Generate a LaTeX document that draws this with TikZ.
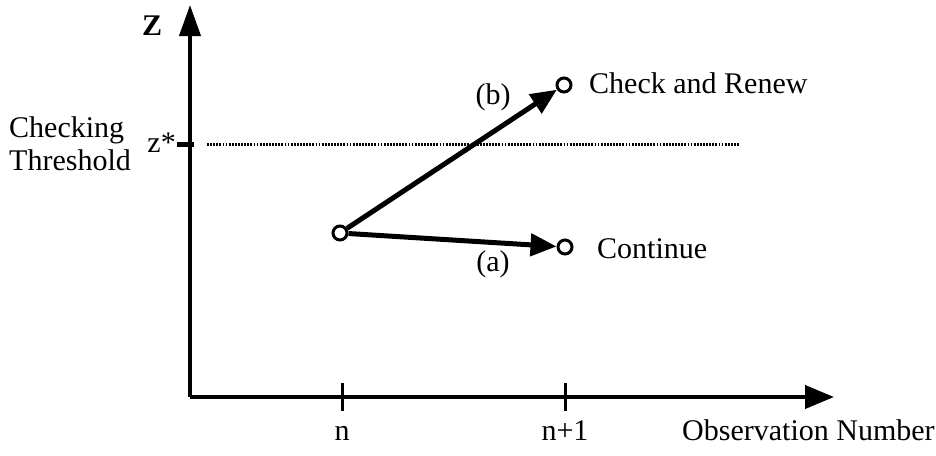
\documentclass[tikz,border=0pt]{standalone}
\usepackage{fontspec}
\setmainfont{Liberation Serif}
\usetikzlibrary{arrows.meta}
\begin{document}
\begin{tikzpicture}[x=1pt,y=-1pt,
  lbl/.style={inner sep=0pt,font=\fontsize{30}{33}\selectfont},
  axis/.style={line width=4pt},
  tick/.style={line width=3pt},
  dot/.style={circle,draw,line width=3pt,fill=white,inner sep=0pt,minimum size=14pt},
  move/.style={line width=5pt,-{Triangle[length=26pt,width=22pt]}}]
\useasboundingbox (0,0) rectangle (936,455);
% axes
\coordinate (O) at (190,397);
\coordinate (ytop) at (190,5);
\coordinate (xend) at (834,397);
\draw[axis,-{Triangle[length=31pt,width=21pt]}] (O) -- (ytop);
\draw[axis,-{Triangle[length=29pt,width=23pt]}] (O) -- (xend);
% ticks
\coordinate (tn1) at (342,383); \coordinate (tn2) at (342,411);
\coordinate (tm1) at (565,383); \coordinate (tm2) at (565,411);
\draw[tick] (tn1) -- (tn2);
\draw[tick] (tm1) -- (tm2);
\coordinate (zs1) at (177,144); \coordinate (zs2) at (194,144);
\draw[line width=5pt] (zs1) -- (zs2);
% threshold
\coordinate (th1) at (207,144); \coordinate (th2) at (740,144);
\draw[line width=3pt,dash pattern=on 1.8pt off 1.3pt] (th1) -- (th2);
% labels
\node[lbl,anchor=base west,font=\fontsize{30}{33}\selectfont\bfseries] (Z) at (142,35) {Z};
\node[lbl,anchor=base east] (zstar) at (176,152) {z*};
\node[lbl,anchor=base west] (chk) at (9,137) {Checking};
\node[lbl,anchor=base west] (thr) at (9,170) {Threshold};
\node[lbl,anchor=base] (n) at (342,440) {n};
\node[lbl,anchor=base] (n1) at (565,440) {n+1};
\node[lbl,anchor=base west] (obs) at (682,440) {Observation Number};
% points
\node[dot] (s) at (340,233) {};
\node[dot] (cr) at (564,85) {};
\node[dot] (co) at (565,247) {};
\draw[move] (s) -- (cr);
\draw[move] (s) -- (co);
\node[lbl,anchor=base] (lb) at (493,104) {(b)};
\node[lbl,anchor=base] (la) at (493,271) {(a)};
\node[lbl,anchor=base west] (tcr) at (589,93) {Check and Renew};
\node[lbl,anchor=base west] (tco) at (597,258) {Continue};
\end{tikzpicture}
\end{document}
